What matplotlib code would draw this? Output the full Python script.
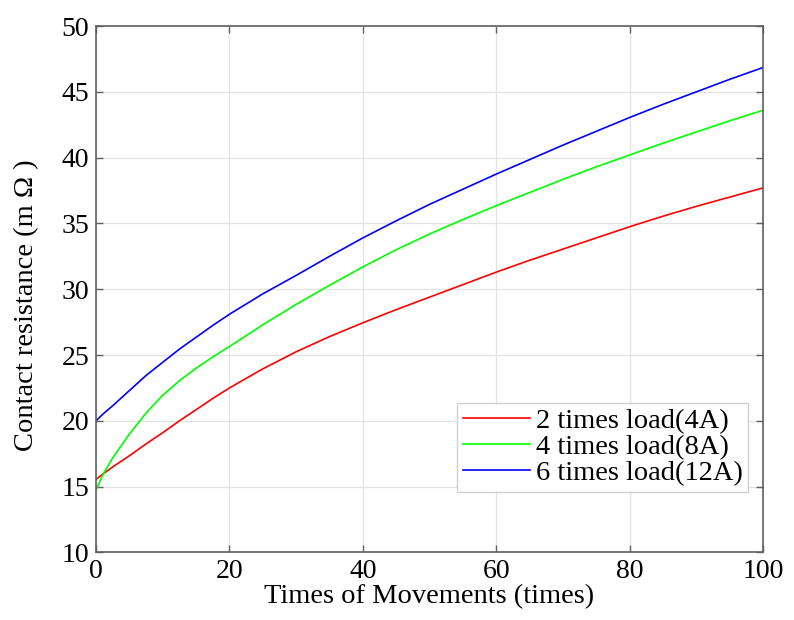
import matplotlib
matplotlib.use('Agg')
import matplotlib.pyplot as plt

# Values
x_vals = [0, 1, 2.5, 5, 7.5, 10, 12.5, 15, 17.5, 20, 25, 30, 35, 40, 45, 50,
          55, 60, 65, 70, 75, 80, 85, 90, 95, 100]
load_2x = [15.55, 15.95, 16.5, 17.35, 18.25, 19.1, 20.0, 20.85, 21.7, 22.5, 23.95, 25.25, 26.4,
           27.45, 28.45, 29.4, 30.35, 31.3, 32.2, 33.05, 33.9, 34.75, 35.55, 36.3, 37.0, 37.7]
load_4x = [14.75, 15.9, 17.2, 19.0, 20.6, 21.95, 23.05, 24.0, 24.85, 25.65, 27.3, 28.85, 30.3,
           31.7, 33.0, 34.2, 35.3, 36.35, 37.35, 38.35, 39.3, 40.2, 41.1, 41.95, 42.8, 43.6]
load_6x = [20.0, 20.5, 21.15, 22.3, 23.45, 24.45, 25.45, 26.35, 27.25, 28.1, 29.65, 31.05, 32.5,
           33.9, 35.2, 36.45, 37.6, 38.75, 39.85, 40.95, 42.0, 43.05, 44.05, 45.0, 45.95, 46.85]
series_labels = ['2 times load(4A)', '4 times load(8A)', '6 times load(12A)']
series_colors = ['#ff0000', '#00ff00', '#0000ff']
x_ticks = [0, 20, 40, 60, 80, 100]
y_ticks = [10, 15, 20, 25, 30, 35, 40, 45, 50]

plt.rcParams['font.family'] = ['Liberation Serif', 'DejaVu Serif']

fig = plt.figure(figsize=(7.94, 6.2), dpi=100)
ax = fig.add_axes([0.121, 0.109, 0.840, 0.849])

for ys, lab, col in zip([load_2x, load_4x, load_6x], series_labels, series_colors):
    ax.plot(x_vals, ys, color=col, linewidth=1.2, label=lab)

ax.set_xlim(0, 100)
ax.set_ylim(10, 50)
ax.set_xticks(x_ticks)
ax.set_yticks(y_ticks)
ax.grid(True, color='#e3e3e3', linewidth=0.9)
ax.set_axisbelow(True)

for sp in ax.spines.values():
    sp.set_color('#606060')
    sp.set_linewidth(1.2)
ax.tick_params(direction='in', top=True, right=True, length=5, width=1.0,
               color='#606060', labelsize=20, pad=5)

ax.set_xlabel('Times of Movements (times)', fontsize=20.5, labelpad=0)
ax.set_ylabel('Contact resistance (m Ω )', fontsize=20.5)
ax.yaxis.set_label_coords(-0.085, 0.47)

leg = ax.legend(loc='lower right', bbox_to_anchor=(0.978, 0.115), borderaxespad=0,
                fontsize=20.5, handlelength=2.35, handletextpad=0.2, labelspacing=0.0,
                borderpad=0.2, fancybox=False, framealpha=1)
leg.get_frame().set_edgecolor('#d0d0d0')
leg.get_frame().set_linewidth(1.0)

fig.savefig('out.png', dpi=100)
